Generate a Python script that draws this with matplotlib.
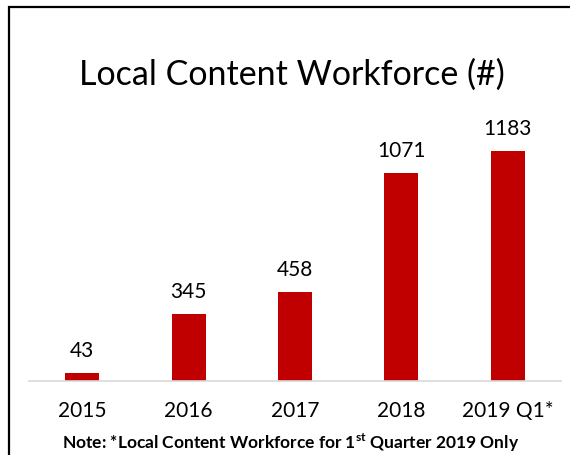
import matplotlib
matplotlib.use('Agg')
import matplotlib.pyplot as plt
from matplotlib.patches import Rectangle

years = ['2015', '2016', '2017', '2018', '2019 Q1*']
workforce = [43, 345, 458, 1071, 1183]

plt.rcParams['font.family'] = ['Lato', 'DejaVu Sans']
plt.rcParams['mathtext.fontset'] = 'custom'
plt.rcParams['mathtext.rm'] = 'Lato:bold'
plt.rcParams['mathtext.bf'] = 'Lato:bold'

fig = plt.figure(figsize=(5.7, 4.56), dpi=100)
ax = fig.add_axes([29/570, 1-382/456, 532/570, 282/456])

x = range(len(years))
bars = ax.bar(x, workforce, width=0.32, color='#c00000', zorder=2)
ax.set_xlim(-0.5, 4.5)
ax.set_ylim(0, 1450)

for xi, v in zip(x, workforce):
    ax.annotate(str(v), (xi, v), xytext=(0, 9), textcoords='offset points',
                ha='center', va='bottom', fontsize=15, color='black')

for s in ['top', 'right', 'left']:
    ax.spines[s].set_visible(False)
ax.spines['bottom'].set_color('#d9d9d9')
ax.spines['bottom'].set_linewidth(1.2)
ax.set_yticks([])
ax.set_xticks(list(x))
ax.set_xticklabels(years, fontsize=15)
ax.tick_params(axis='x', length=0, pad=14)

fig.text(292/570, 1-75/456, 'Local Content Workforce (#)', ha='center', va='center',
         fontsize=24.5)
fig.text(291/570, 1-443/456,
         r'Note: *Local Content Workforce for 1$^{\mathbf{st}}$ Quarter 2019 Only',
         ha='center', va='center', fontsize=12.5, fontweight='bold')

fig.patches.append(Rectangle((9/570, -0.1), 1.2, 1-8/456+0.1, transform=fig.transFigure,
                             fill=False, edgecolor='black', linewidth=1.6))

fig.savefig('out.png', dpi=100)
